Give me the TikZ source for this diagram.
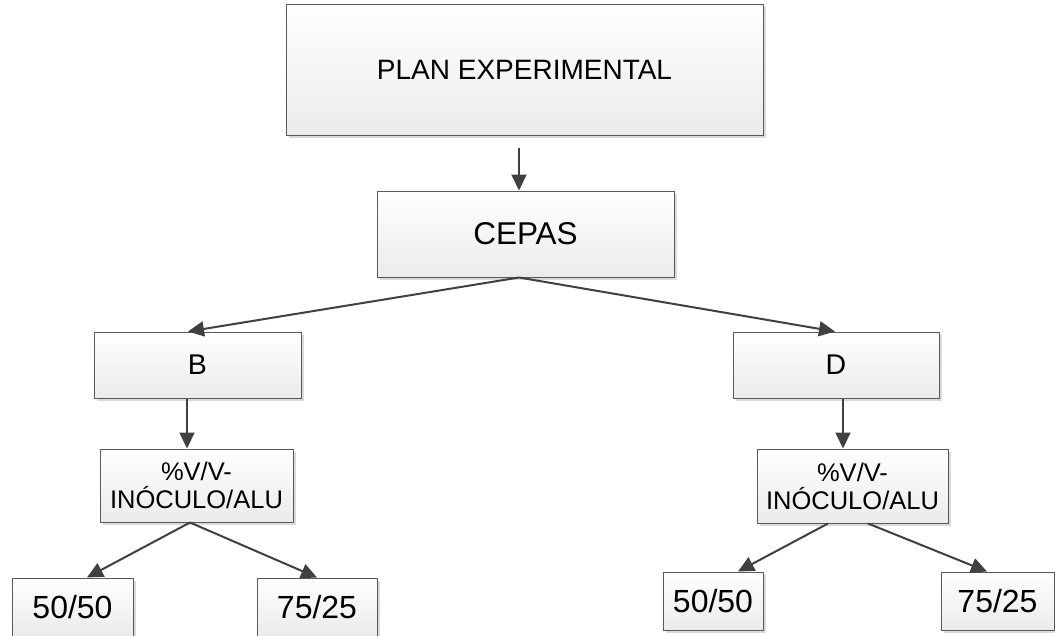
\documentclass[tikz,border=0pt]{standalone}
\usepackage{fontspec}
\setmainfont{Liberation Sans}
\usetikzlibrary{arrows.meta,shadows}
\definecolor{linkgray}{HTML}{404040}
\definecolor{framegray}{HTML}{595959}
\definecolor{shadegray}{HTML}{EBEBEB}
\definecolor{shadowgray}{HTML}{DADADA}

\begin{document}
\begin{tikzpicture}[x=1pt,y=-1pt,
  box/.style={draw=framegray, line width=1pt, top color=white, bottom color=shadegray,
    drop shadow={shadow xshift=3pt, shadow yshift=-3pt, fill=shadowgray, opacity=1},
    inner sep=0pt, align=center, text=black},
  link/.style={draw=linkgray, line width=2pt, -{Triangle[length=16pt,width=15pt]}}]

\clip (0,0) rectangle (1055,635);
\useasboundingbox (0,0) rectangle (1055,635);

% boxes
\node[box, minimum width=477pt, minimum height=131pt, font=\fontsize{28}{34}\selectfont]
  (plan) at (524.5,69.5) {PLAN EXPERIMENTAL};
\node[box, minimum width=297pt, minimum height=86pt, font=\fontsize{31.5}{36}\selectfont]
  (cepas) at (525.5,234) {CEPAS};
\node[box, minimum width=207pt, minimum height=66pt, font=\fontsize{28.5}{34}\selectfont]
  (B) at (197.5,365) {B};
\node[box, minimum width=206pt, minimum height=66pt, font=\fontsize{28.5}{34}\selectfont]
  (D) at (836,365) {D};
\node[box, minimum width=193pt, minimum height=73pt, font=\fontsize{25.5}{28}\selectfont]
  (vL) at (196.5,485.5) {\%V/V-\\INÓCULO/ALU};
\node[box, minimum width=191pt, minimum height=74pt, font=\fontsize{25.5}{28}\selectfont]
  (vR) at (852.5,486) {\%V/V-\\INÓCULO/ALU};
\node[box, minimum width=121pt, minimum height=58pt, font=\fontsize{32}{38}\selectfont]
  (L50) at (72.5,607) {50/50};
\node[box, minimum width=120pt, minimum height=58pt, font=\fontsize{32}{38}\selectfont]
  (L75) at (317,607) {75/25};
\node[box, minimum width=100pt, minimum height=58pt, font=\fontsize{32}{38}\selectfont]
  (R50) at (713,601) {50/50};
\node[box, minimum width=113pt, minimum height=58pt, font=\fontsize{32}{38}\selectfont]
  (R75) at (997.5,601) {75/25};

% connectors
\draw[link] ([xshift=-5.5pt,yshift=-12pt]plan.south) -- ([xshift=-6.5pt]cepas.north);
\draw[link] ([xshift=-6.5pt]cepas.south) -- ([xshift=-9.5pt]B.north);
\draw[link] ([xshift=-6.5pt]cepas.south) -- ([xshift=-1pt]D.north);
\draw[link] ([xshift=-10.5pt]B.south) -- ([xshift=-9.5pt]vL.north);
\draw[link] ([xshift=7pt]D.south) -- ([xshift=-9.5pt]vR.north);
\draw[link] ([xshift=-6.5pt]vL.south) -- ([xshift=14.5pt]L50.north);
\draw[link] ([xshift=-6.5pt]vL.south) -- (L75.north);
\draw[link] ([xshift=-24.5pt]vR.south) -- ([xshift=25pt]R50.north);
\draw[link] ([xshift=15.5pt]vR.south) -- ([xshift=-10.5pt]R75.north);
\end{tikzpicture}
\end{document}
